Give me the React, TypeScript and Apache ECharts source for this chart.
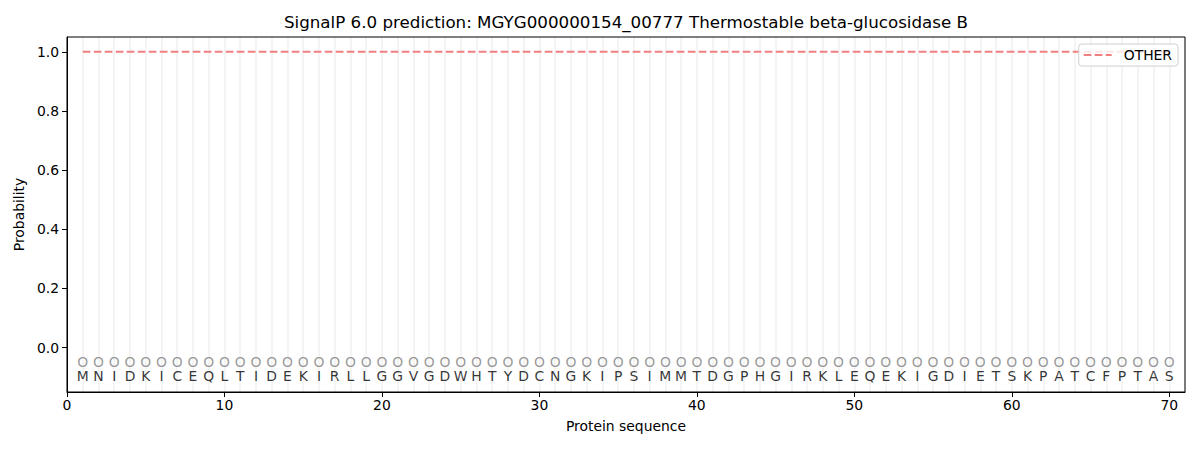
import { useEffect, useRef } from "react";
import * as echarts from "echarts";

const titleText = "SignalP 6.0 prediction: MGYG000000154_00777 Thermostable beta-glucosidase B";
const sequence = "MNIDKICEQLTIDEKIRLLGGVGDWHTYDCNGKIPSIMMTDGPHGIRKLEQEKIGDIETSKPATCFPTAS".split("");
const positions = sequence.map((_, i) => i + 1);
const otherProb = positions.map(() => 1.0);
const yTicks = [0, 0.2, 0.4, 0.6, 0.8, 1.0];
const xTicks = [0, 10, 20, 30, 40, 50, 60, 70];

const FONT = "DejaVu Sans";
const FS = 13.9;
const LINE_RED = "#f08080";

export default function App() {
  const ref = useRef<HTMLDivElement>(null);
  useEffect(() => {
    if (!ref.current) return;
    document.body.style.margin = "0";
    const chart = echarts.init(ref.current, undefined, { renderer: "svg" });
    chart.setOption({
      animation: false,
      textStyle: { fontFamily: FONT },
      grid: {
        left: 67, right: 15, top: 37, bottom: 58,
        show: true, borderColor: "#000", borderWidth: 1, containLabel: false,
      },
      graphic: [
        {
          type: "text",
          x: 626,
          y: 22,
          style: {
            text: titleText,
            fontFamily: FONT,
            fontSize: 16.7,
            fill: "#000",
            textAlign: "center",
            textVerticalAlign: "middle",
            align: "center",
            verticalAlign: "middle",
          },
        },
      ],
      legend: {
        right: 22,
        top: 44,
        data: [
          {
            name: "OTHER",
            icon: "path://M0,0h7.7v2h-7.7z M11,0h7.7v2h-7.7z M22,0h6v2h-6z",
            itemStyle: { color: LINE_RED },
          },
        ],
        itemWidth: 28,
        itemHeight: 2,
        padding: [4, 6, 4, 5],
        borderColor: "#d0d0d0",
        borderWidth: 1,
        borderRadius: 3,
        backgroundColor: "rgba(255,255,255,0.8)",
        textStyle: { fontFamily: FONT, fontSize: FS, color: "#000", padding: [0, 0, 0, 7] },
      },
      xAxis: [
        {
          type: "value",
          min: 0,
          max: 71,
          interval: 10,
          name: "Protein sequence",
          nameLocation: "middle",
          nameGap: 27,
          nameTextStyle: { fontFamily: FONT, fontSize: FS, color: "#000" },
          axisLine: { show: true, onZero: false, lineStyle: { color: "#000" } },
          axisTick: { show: true, length: 5, customValues: xTicks, lineStyle: { color: "#000" } },
          axisLabel: { fontFamily: FONT, fontSize: FS, color: "#000", margin: 6, customValues: xTicks },
          splitLine: { show: false },
        },
        {
          type: "value",
          min: 0,
          max: 71,
          interval: 1,
          position: "bottom",
          axisLine: { show: false, onZero: false },
          axisTick: { show: false },
          axisLabel: { show: false },
          splitLine: { show: true, lineStyle: { color: "rgba(0,0,0,0.06)", width: 1.5 } },
        },
      ],
      yAxis: {
        type: "value",
        min: -0.15,
        max: 1.05,
        name: "Probability",
        nameLocation: "middle",
        nameGap: 38,
        nameTextStyle: { fontFamily: FONT, fontSize: FS, color: "#000" },
        axisLine: { show: true, onZero: false, lineStyle: { color: "#000" } },
        axisTick: { show: true, length: 5, customValues: yTicks, lineStyle: { color: "#000" } },
        axisLabel: {
          fontFamily: FONT, fontSize: FS, color: "#000", margin: 8,
          customValues: yTicks,
          formatter: (v: number) => v.toFixed(1),
        },
        splitLine: { show: false },
      },
      series: [
        {
          name: "OTHER",
          type: "line",
          data: positions.map((p, i) => [p, otherProb[i]]),
          symbol: "none",
          lineStyle: { color: LINE_RED, width: 2, type: [7.7, 3.3] },
          itemStyle: { color: LINE_RED },
        },
        {
          name: "circles",
          type: "scatter",
          symbolSize: 0,
          silent: true,
          data: positions.map((p) => [p, -0.05]),
          label: {
            show: true,
            position: "inside",
            formatter: "O",
            fontFamily: FONT,
            fontSize: FS,
            color: "#808080",
          },
        },
        {
          name: "residues",
          type: "scatter",
          symbolSize: 0,
          silent: true,
          data: positions.map((p, i) => ({ value: [p, -0.097], name: sequence[i] })),
          label: {
            show: true,
            position: "inside",
            formatter: (params: any) => params.name,
            fontFamily: FONT,
            fontSize: FS,
            color: "#000",
          },
        },
      ],
    });
    return () => chart.dispose();
  }, []);
  return <div ref={ref} style={{ width: 1200, height: 450 }} />;
}
